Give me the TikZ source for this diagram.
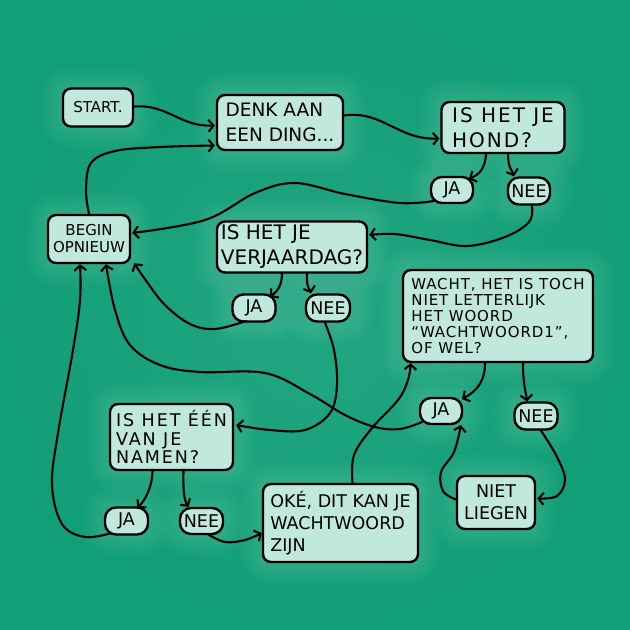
\documentclass[tikz,border=0pt]{standalone}
\usepackage{fontspec}
\setmainfont{DejaVu Sans}
\usetikzlibrary{arrows.meta,calc}
\pgfdeclarelayer{background}
\pgfsetlayers{background,main}
\definecolor{bgc}{RGB}{18,158,120}
\definecolor{bglight}{RGB}{34,166,130}
\definecolor{boxc}{RGB}{192,232,220}
\newcommand\fDenk{\fontsize{18.5}{25}\selectfont}
\newcommand\fBig{\fontsize{20}{25}\selectfont}
\newcommand\fHond{\fontsize{20}{25}\selectfont\addfontfeature{LetterSpace=10}}
\newcommand\fMid{\fontsize{17.5}{22}\selectfont}
\newcommand\fNam{\fontsize{17.5}{18.5}\selectfont\addfontfeature{LetterSpace=11}}
\newcommand\fSmall{\fontsize{15}{17}\selectfont}
\newcommand\fWa{\fontsize{15}{15.8}\selectfont\addfontfeature{LetterSpace=6}}
\newcommand\fTag{\fontsize{17.5}{18}\selectfont}
\begin{document}
\begin{tikzpicture}[x=1pt,y=-1pt,
  box/.style={draw=black, line width=2.4pt, fill=boxc, rounded corners=8pt,
    inner sep=3pt, align=left, text=black},
  tag/.style={box, rounded corners=11pt, font=\fTag, align=center, inner sep=1pt},
  arr/.style={draw=black, line width=2.1pt, line cap=round,
    -{Straight Barb[length=5pt,width=12pt,line width=2.1pt]}},
  sm/.style={smooth, tension=0.6}]
\useasboundingbox (0,0) rectangle (630,630);

% nodes
\node[box, font=\fSmall, align=center, minimum width=70pt, minimum height=38pt] (start) at (98,107.5) {START.};
\node[box, font=\fDenk, minimum width=126pt, minimum height=55pt] (denk) at (280,122.5) {DENK AAN\\EEN DING...};
\node[box, font=\fHond, minimum width=123pt, minimum height=51pt] (hond) at (503,127.5) {IS HET JE\\HOND?};
\node[tag, minimum width=42pt, minimum height=26pt] (ja1) at (452,190) {JA};
\node[tag, minimum width=42pt, minimum height=27pt] (nee1) at (529,191) {NEE};
\node[box, font=\fSmall, align=center, minimum width=82pt, minimum height=48pt] (begin) at (89,239) {BEGIN\\OPNIEUW};
\node[box, font=\fBig, minimum width=150pt, minimum height=51pt] (verj) at (292,247) {IS HET JE\\VERJAARDAG?};
\node[tag, minimum width=43pt, minimum height=27pt] (ja2) at (254,308) {JA};
\node[tag, minimum width=44pt, minimum height=27pt] (nee2) at (328,308) {NEE};
\node[box, font=\fWa, minimum width=190pt, minimum height=92pt] (wacht) at (498,316) {WACHT, HET IS TOCH\\NIET LETTERLIJK\\HET WOORD\\“WACHTWOORD1”,\\OF WEL?};
\node[tag, minimum width=42pt, minimum height=26pt] (ja3) at (441,411) {JA};
\node[tag, minimum width=43pt, minimum height=27pt] (nee4) at (536,416) {NEE};
\node[box, font=\fNam, minimum width=123pt, minimum height=66pt] (namen) at (171.5,437) {IS HET ÉÉN\\VAN JE\\NAMEN?};
\node[tag, minimum width=43pt, minimum height=27pt] (ja5) at (126.5,521) {JA};
\node[tag, minimum width=43pt, minimum height=26pt] (nee5) at (201.5,521) {NEE};
\node[box, font=\fMid, minimum width=155pt, minimum height=78pt] (oke) at (340.5,523) {OKÉ, DIT KAN JE\\WACHTWOORD\\ZIJN};
\node[box, font=\fMid, align=center, minimum width=78pt, minimum height=53pt] (niet) at (496,502.5) {NIET\\LIEGEN};

% background and soft glow
\begin{pgfonlayer}{background}
\shade[inner color=bglight, outer color=bgc] (0,0) rectangle (630,630);
\foreach \n in {start,denk,hond,ja1,nee1,begin,verj,ja2,nee2,wacht,ja3,nee4,namen,ja5,nee5,oke,niet}{
  \foreach \r in {2,4,...,22}{
    \fill[white, opacity=0.012, rounded corners=8pt+\r pt]
      ($(\n.north west)+(-\r,-\r)$) rectangle ($(\n.south east)+(\r,\r)$);
  }
}
\end{pgfonlayer}

% connectors
\draw[arr] ($(start.east)+(0,-1)$) .. controls (168,104) and (180,127) .. ($(denk.west)+(-1,3)$);
\draw[arr] ($(denk.east)+(0,-7)$) .. controls (382,110) and (398,140) .. ($(hond.west)+(-1,11)$);
\draw[arr] plot[sm] coordinates {(begin.north) (86,190) (91,163) (115,151) (160,147) ($(denk.west)+(-1,23)$)};
\draw[arr] ($(hond.south)+(-17,0)$) .. controls (485,168) and (480,174) .. ($(ja1)+(17,-11)$);
\draw[arr] ($(hond.south)+(5,0)$) .. controls (508,168) and (512,170) .. ($(nee1.north)+(-15,0)$);
\draw[arr] plot[sm] coordinates {($(ja1)+(-18,11)$) (400,203) (345,194) (295,183) (255,193) (205,220) ($(begin.east)+(1,-6)$)};
\draw[arr] plot[sm] coordinates {($(nee1.south)+(3,0)$) (529,222) (505,237) (467,246) (430,240) (395,234) ($(verj.east)+(1,-12)$)};
\draw[arr] ($(verj.south)+(-10,0)$) .. controls (282,287) and (276,292) .. ($(ja2)+(16,-11)$);
\draw[arr] ($(verj.south)+(15,0)$) .. controls (306,287) and (310,290) .. ($(nee2.north)+(-17,0)$);
\draw[arr] plot[sm] coordinates {($(ja2)+(-8,13)$) (215,329) (190,324) (165,305) (147,282) ($(begin.south east)+(3,-1)$)};
\draw[arr] plot[sm] coordinates {($(nee2.south)+(-3,0)$) (334,350) (337,385) (330,413) (305,430) (270,430) ($(namen.east)+(2,-12)$)};
\draw[arr] plot[sm] coordinates {($(ja3)+(-19,11)$) (400,429) (375,427) (345,415) (310,394) (265,373) (200,372) (160,365) (130,345) (115,310) ($(begin.south)+(17,0)$)};
\draw[arr] plot[sm] coordinates {($(ja5)+(-15,12)$) (85,537) (62,524) (52,485) (58,433) (73,350) (80,300) ($(begin.south)+(-9,0)$)};
\draw[arr] ($(namen.south)+(-19,0)$) .. controls (152,488) and (145,500) .. ($(ja5)+(11,-13)$);
\draw[arr] ($(namen.south)+(12,0)$) .. controls (183,490) and (184,500) .. ($(nee5.north)+(-13,0)$);
\draw[arr] plot[sm] coordinates {($(nee5)+(6,13)$) (225,542) (245,540) ($(oke.west)+(0,10)$)};
\draw[arr] plot[sm] coordinates {($(oke.north)+(12,0)$) (354,455) (372,428) (398,400) (408,380) ($(wacht.south west)+(9,0)$)};
\draw[arr] ($(wacht.south)+(-13,0)$) .. controls (485,383) and (475,392) .. ($(ja3)+(21,-12)$);
\draw[arr] ($(wacht.south)+(25,0)$) .. controls (523,385) and (526,392) .. ($(nee4.north)+(-9,0)$);
\draw[arr] plot[sm] coordinates {($(nee4.south)+(5,0)$) (556,455) (565,479) (557,496) ($(niet.east)+(1,-4)$)};
\draw[arr] plot[sm] coordinates {($(niet.west)+(0,-3)$) (443,491) (441,472) (454,452) ($(ja3)+(20,14)$)};
\end{tikzpicture}
\end{document}
